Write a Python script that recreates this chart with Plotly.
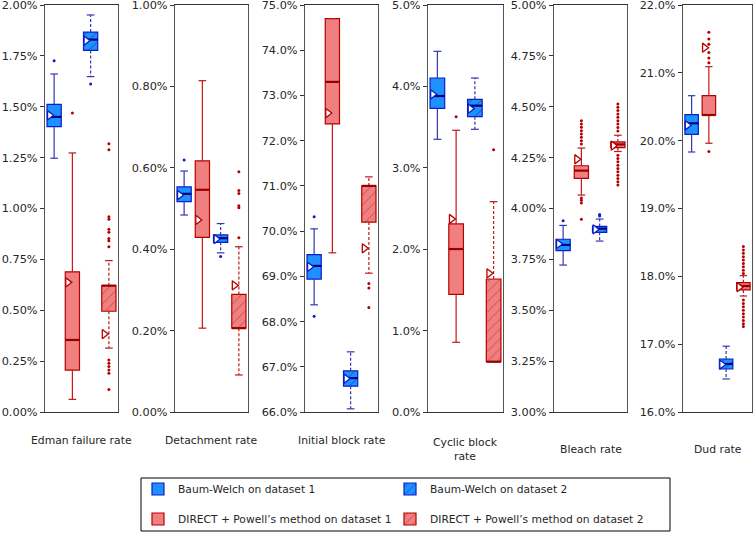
import plotly.graph_objects as go

panels = ["Edman failure rate", "Detachment rate", "Initial block rate",
          "Cyclic block<br>rate", "Bleach rate", "Dud rate"]
y_ranges = [[0, 2], [0, 1], [66, 75], [0, 5], [3, 5], [16, 22]]
y_dticks = [0.25, 0.2, 1, 1, 0.25, 1]
y_formats = [".2f", ".2f", ".1f", ".1f", ".2f", ".1f"]

series_names = ["Baum-Welch on dataset 1", "DIRECT + Powell\u2019s method on dataset 1",
                "Baum-Welch on dataset 2", "DIRECT + Powell\u2019s method on dataset 2"]

# Baum-Welch, dataset 1 (values in %)
bw1_q1 = [1.402, 0.517, 68.94, 3.731, 3.793, 20.094]
bw1_med = [1.450, 0.536, 69.23, 3.882, 3.821, 20.256]
bw1_q3 = [1.512, 0.553, 69.48, 4.103, 3.849, 20.383]
bw1_lo = [1.247, 0.484, 68.37, 3.350, 3.722, 19.833]
bw1_hi = [1.661, 0.592, 70.05, 4.431, 3.917, 20.663]
bw1_mean = [1.458, 0.533, 69.21, 3.903, 3.826, 20.227]
bw1_out = [[1.726], [0.619], [70.32, 68.12], [], [3.940], []]

# DIRECT + Powell, dataset 1
d1_q1 = [0.206, 0.429, 72.37, 1.446, 4.148, 20.378]
d1_med = [0.354, 0.546, 73.30, 2.002, 4.186, 20.378]
d1_q3 = [0.689, 0.617, 74.70, 2.310, 4.210, 20.663]
d1_lo = [0.062, 0.206, 69.52, 0.856, 4.066, 19.962]
d1_hi = [1.273, 0.814, 74.70, 3.461, 4.297, 21.091]
d1_mean = [0.637, 0.472, 72.61, 2.371, 4.242, 21.37]
d1_out = [[1.469], [], [], [3.628],
          [4.431, 4.415, 4.399, 4.382, 4.366, 4.350, 4.333, 4.317, 4.052, 4.040, 4.027, 3.947],
          [21.60, 21.50, 21.42, 21.30, 21.22, 21.15, 19.84]]

# Baum-Welch, dataset 2
bw2_q1 = [1.777, 0.417, 66.57, 3.628, 3.883, 16.634]
bw2_med = [1.830, 0.427, 66.75, 3.763, 3.901, 16.708]
bw2_q3 = [1.867, 0.435, 66.91, 3.841, 3.912, 16.781]
bw2_lo = [1.648, 0.391, 66.07, 3.473, 3.840, 16.487]
bw2_hi = [1.951, 0.463, 67.33, 4.103, 3.948, 16.970]
bw2_mean = [1.825, 0.425, 66.74, 3.726, 3.897, 16.700]
bw2_out = [[1.612], [0.382], [], [], [3.971, 3.963], []]

# DIRECT + Powell, dataset 2
d2_q1 = [0.495, 0.206, 70.20, 0.618, 4.299, 17.799]
d2_med = [0.621, 0.206, 71.00, 0.618, 4.315, 17.858]
d2_q3 = [0.621, 0.289, 71.00, 1.634, 4.327, 17.906]
d2_lo = [0.314, 0.091, 69.07, 0.618, 4.280, 17.710]
d2_hi = [0.744, 0.406, 71.20, 2.584, 4.360, 18.010]
d2_mean = [0.383, 0.311, 69.62, 1.704, 4.309, 17.840]
d2_out = [[1.318, 1.289, 0.960, 0.947, 0.898, 0.883, 0.853, 0.842, 0.812,
           0.255, 0.239, 0.223, 0.206, 0.190, 0.111],
          [0.590, 0.544, 0.537, 0.507, 0.502, 0.428],
          [68.84, 68.74, 68.31],
          [3.222],
          [4.513, 4.497, 4.481, 4.464, 4.448, 4.431, 4.415, 4.398, 4.381,
           4.262, 4.246, 4.230, 4.213, 4.197, 4.180, 4.164, 4.148, 4.131, 4.115],
          [18.44, 18.39, 18.34, 18.29, 18.24, 18.19, 18.14, 18.09, 18.04,
           17.65, 17.60, 17.55, 17.50, 17.45, 17.40, 17.35, 17.30, 17.26]]

series = [
    dict(q1=bw1_q1, med=bw1_med, q3=bw1_q3, lo=bw1_lo, hi=bw1_hi, mean=bw1_mean, out=bw1_out,
         fill="#1E90FF", edge="#0A1EC8", whisk="#3535B5", medc="#00007A", hatch=False,
         legend="legend", lx=138, ly=489),
    dict(q1=d1_q1, med=d1_med, q3=d1_q3, lo=d1_lo, hi=d1_hi, mean=d1_mean, out=d1_out,
         fill="#F08080", edge="#B40000", whisk="#C01818", medc="#9A0000", hatch=False,
         legend="legend2", lx=138, ly=519),
    dict(q1=bw2_q1, med=bw2_med, q3=bw2_q3, lo=bw2_lo, hi=bw2_hi, mean=bw2_mean, out=bw2_out,
         fill="#1E90FF", edge="#0A1EC8", whisk="#3535B5", medc="#00007A", hatch=True,
         legend="legend3", lx=390, ly=489),
    dict(q1=d2_q1, med=d2_med, q3=d2_q3, lo=d2_lo, hi=d2_hi, mean=d2_mean, out=d2_out,
         fill="#F08080", edge="#B40000", whisk="#C01818", medc="#9A0000", hatch=True,
         legend="legend4", lx=390, ly=519),
]

W, H = 756, 536
x_px = [(45, 118), (175, 248), (305, 378), (428, 503), (554, 627), (683, 752)]
label_y_px = [440, 440, 440, 449, 449, 449]
y_top, y_bot = 5, 412
BOXW = 0.78
CAPW = 0.42
FONT = "DejaVu Sans"

fig = go.Figure()

for p in range(6):
    xa = "x" if p == 0 else f"x{p+1}"
    ya = "y" if p == 0 else f"y{p+1}"
    for si, s in enumerate(series):
        pos = si
        q1, med, q3 = s["q1"][p], s["med"][p], s["q3"][p]
        lo, hi = s["lo"][p], s["hi"][p]
        dash = "3px,2px" if s["hatch"] else "solid"
        fig.add_trace(go.Scatter(x=[pos, pos, None, pos, pos], y=[q3, hi, None, q1, lo],
                                 mode="lines", line=dict(color=s["whisk"], width=1.2, dash=dash),
                                 xaxis=xa, yaxis=ya, showlegend=False, hoverinfo="skip"))
        fig.add_trace(go.Scatter(x=[pos - CAPW / 2, pos + CAPW / 2, None, pos - CAPW / 2, pos + CAPW / 2],
                                 y=[hi, hi, None, lo, lo], mode="lines",
                                 line=dict(color=s["whisk"], width=1.2),
                                 xaxis=xa, yaxis=ya, showlegend=False, hoverinfo="skip"))
        marker = dict(color=s["fill"], line=dict(color=s["edge"], width=1.2))
        if s["hatch"]:
            marker["pattern"] = dict(shape="/", fgcolor=s["medc"], fillmode="overlay",
                                     size=7, solidity=0.12)
        fig.add_trace(go.Bar(x=[pos], y=[q3 - q1], base=[q1], width=BOXW, marker=marker,
                             xaxis=xa, yaxis=ya, name=series_names[si],
                             legendgroup=series_names[si], legend=s["legend"],
                             showlegend=(p == 0)))
        fig.add_trace(go.Scatter(x=[pos - BOXW / 2, pos + BOXW / 2], y=[med, med], mode="lines",
                                 line=dict(color=s["medc"], width=2.2),
                                 xaxis=xa, yaxis=ya, showlegend=False, hoverinfo="skip"))
        outs = s["out"][p]
        if outs:
            fig.add_trace(go.Scatter(x=[pos] * len(outs), y=outs, mode="markers",
                                     marker=dict(color=s["edge"], size=3, line=dict(width=0)),
                                     xaxis=xa, yaxis=ya, showlegend=False, hoverinfo="skip"))
        fig.add_trace(go.Scatter(x=[pos - 0.25], y=[s["mean"][p]], mode="markers",
                                 marker=dict(symbol="triangle-right", size=8, color="white",
                                             line=dict(color=s["edge"], width=1.3)),
                                 xaxis=xa, yaxis=ya, showlegend=False, hoverinfo="skip"))

layout = dict(
    width=W, height=H, margin=dict(l=0, r=0, t=0, b=0, autoexpand=False),
    paper_bgcolor="white", plot_bgcolor="white",
    barmode="overlay", font=dict(family=FONT, size=11, color="#262626"),
    shapes=[dict(type="rect", xref="paper", yref="paper",
                 x0=141 / W, x1=670 / W, y0=1 - 531 / H, y1=1 - 478 / H,
                 line=dict(color="#000000", width=1), fillcolor="rgba(0,0,0,0)")],
    annotations=[],
)
for s in series:
    layout[s["legend"]] = dict(orientation="v", x=s["lx"] / W, xanchor="left",
                               y=1 - s["ly"] / H, yanchor="middle",
                               borderwidth=0, bgcolor="rgba(0,0,0,0)",
                               font=dict(family=FONT, size=10.7, color="#262626"),
                               itemclick=False, itemdoubleclick=False)
for p in range(6):
    xk = "xaxis" if p == 0 else f"xaxis{p+1}"
    yk = "yaxis" if p == 0 else f"yaxis{p+1}"
    ya = "y" if p == 0 else f"y{p+1}"
    xa = "x" if p == 0 else f"x{p+1}"
    x0, x1 = x_px[p]
    layout[xk] = dict(domain=[x0 / W, x1 / W], range=[-0.5, 3.5], anchor=ya,
                      showticklabels=False, ticks="", showgrid=False, zeroline=False,
                      showline=True, linecolor="#333333", linewidth=1, mirror=True,
                      automargin=False)
    layout[yk] = dict(domain=[1 - y_bot / H, 1 - y_top / H], range=y_ranges[p], anchor=xa,
                      dtick=y_dticks[p], tick0=y_ranges[p][0], tickformat=y_formats[p],
                      ticksuffix="%", ticks="outside", ticklen=4, tickcolor="#333333",
                      showgrid=False, zeroline=False, showline=True, linecolor="#555555",
                      linewidth=1.3, mirror=True, automargin=False,
                      ticklabeloverflow="allow",
                      tickfont=dict(family=FONT, size=11.3, color="#262626"))
    layout["annotations"].append(dict(
        text=panels[p], xref="paper", yref="paper", x=(x0 + x1) / 2 / W,
        y=1 - label_y_px[p] / H, xanchor="center", yanchor="middle", showarrow=False,
        font=dict(family=FONT, size=10.8, color="#262626")))
fig.update_layout(**layout)

fig.write_html("out.html", config={"displayModeBar": False},
               post_script="document.body.style.margin='0px';")
